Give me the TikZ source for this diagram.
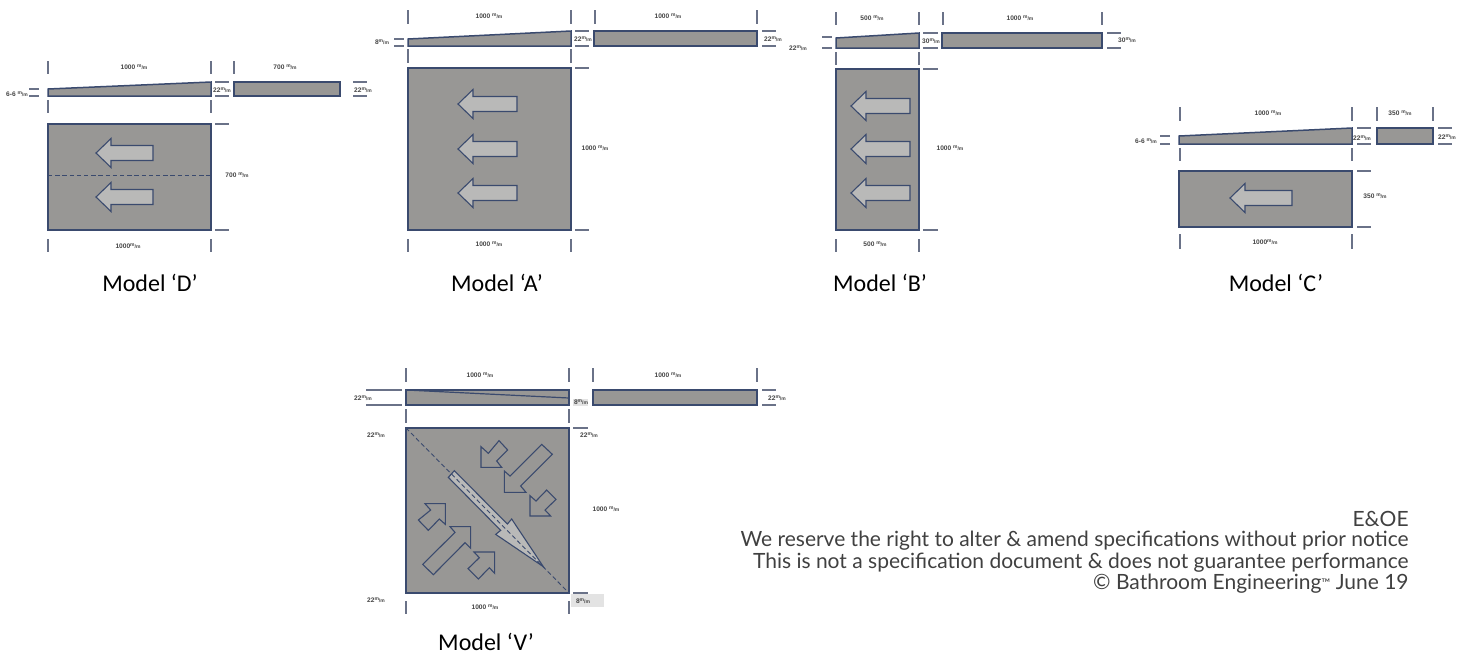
\documentclass[tikz,border=0pt]{standalone}
\usepackage{fontspec}
\setmainfont{Liberation Sans}
\newfontfamily\modelfont{Carlito}
\newfontfamily\notefont{Lato}
\definecolor{panel}{HTML}{989795}
\definecolor{edge}{HTML}{3A4A6E}
\definecolor{tick}{HTML}{6A7288}
\definecolor{lite}{HTML}{B9B9B8}
\definecolor{lab}{HTML}{444444}
\definecolor{notegray}{HTML}{404040}
\newcommand\mmu{{\fontsize{2.5}{2.5}\selectfont\raisebox{.7pt}{m}/m}}
\newcommand\tickV[3]{\draw[ticks] (#1,#2) -- (#1,#3);}
\newcommand\tickH[3]{\draw[ticks] (#1,#3) -- (#2,#3);}
\newcommand\dimL[4]{\node[dimlabel] (#1) at (#2,#3) {#4\mmu};}
\newcommand\leftarr[3]{\draw[arrowshape] (#1,#3) -- (#1+15,#3-14.5) -- (#1+15,#3-7.5) -- (#2,#3-7.5) -- (#2,#3+7.5) -- (#1+15,#3+7.5) -- (#1+15,#3+14.5) -- cycle;}
\tikzset{
  panelshape/.style={draw=edge,fill=panel,line width=.75pt,line join=miter},
  ticks/.style={draw=tick,line width=.65pt},
  arrowshape/.style={draw=edge,fill=lite,line width=.55pt},
  openarrow/.style={draw=edge,line width=.55pt},
  dashline/.style={draw=edge,line width=.45pt,dash pattern=on 2.2pt off 1.4pt},
  dimlabel/.style={font=\bfseries\fontsize{3.3}{3.3}\selectfont,text=lab,inner sep=0pt},
  modellabel/.style={font=\modelfont\fontsize{12}{12}\selectfont,text=black,inner sep=0pt},
  notelabel/.style={font=\notefont\fontsize{10.5}{11}\selectfont,text=notegray,inner sep=0pt,anchor=east}
}
\begin{document}
\begin{tikzpicture}[x=.5pt,y=-.5pt]
\useasboundingbox (0,0) rectangle (1464,654);
% ---------- Model D
\draw[panelshape] (48,89) -- (211,82) -- (211,96) -- (48,96) -- cycle;
\draw[panelshape] (234,82) rectangle (340,96);
\draw[panelshape] (48,124) rectangle (211,230);
\draw[dashline] (48,175) -- (211,175);
\leftarr{96}{153}{153}
\leftarr{96}{153}{197}
\foreach \x in {48,211,234} {\tickV{\x}{61}{74}}
\foreach \x in {48,211} {\tickV{\x}{100}{113}\tickV{\x}{239}{252}}
\tickH{29}{39}{89}\tickH{29}{39}{96}
\tickH{215}{229}{82}\tickH{215}{229}{96}
\tickH{353}{367}{82}\tickH{353}{367}{96}
\tickH{215}{229}{124}\tickH{215}{229}{230}
\dimL{d1}{134}{67}{1000 }
\dimL{d2}{285}{67}{700 }
\dimL{d3}{17}{94}{6-6 }
\dimL{d4}{222}{90}{22}
\dimL{d5}{363}{90}{22}
\dimL{d6}{237}{175}{700 }
\dimL{d7}{128}{246}{1000}
\node[modellabel] (md) at (150,283) {Model ‘D’};
% ---------- Model A
\draw[panelshape] (408,39) -- (571,31) -- (571,46) -- (408,46) -- cycle;
\draw[panelshape] (594,31) rectangle (757,46);
\draw[panelshape] (408,68) rectangle (571,230);
\leftarr{458}{517}{104}
\leftarr{458}{517}{149}
\leftarr{458}{517}{193}
\foreach \x in {408,571,595,757} {\tickV{\x}{10}{24}}
\foreach \x in {408,571} {\tickV{\x}{49}{63}\tickV{\x}{239}{252}}
\tickH{394}{404}{39}\tickH{394}{404}{46}
\tickH{575}{589}{31}\tickH{575}{589}{46}
\tickH{762}{776}{31}\tickH{762}{776}{46}
\tickH{575}{589}{68}\tickH{575}{589}{230}
\dimL{a1}{489}{16}{1000 }
\dimL{a2}{668}{16}{1000 }
\dimL{a3}{382}{42}{8}
\dimL{a4}{583}{39}{22}
\dimL{a5}{773}{39}{22}
\dimL{a6}{595}{148}{1000 }
\dimL{a7}{489}{244}{1000 }
\node[modellabel] (ma) at (497,283) {Model ‘A’};
% ---------- Model B
\draw[panelshape] (836,38) -- (919,33) -- (919,48) -- (836,48) -- cycle;
\draw[panelshape] (942,33) rectangle (1102,48);
\draw[panelshape] (836,69) rectangle (919,230);
\leftarr{851}{910}{106}
\leftarr{851}{910}{149}
\leftarr{851}{910}{193}
\foreach \x in {836,919,943,1102} {\tickV{\x}{12}{25}}
\foreach \x in {836,919} {\tickV{\x}{52}{65}\tickV{\x}{239}{252}}
\tickH{822}{832}{37}\tickH{822}{832}{48}
\tickH{923}{938}{33}\tickH{923}{938}{48}
\tickH{1107}{1121}{33}\tickH{1107}{1121}{48}
\tickH{923}{938}{69}\tickH{923}{938}{230}
\dimL{b1}{872}{18}{500 }
\dimL{b2}{1020}{18}{1000 }
\dimL{b3}{798}{48}{22}
\dimL{b4}{931}{41}{30}
\dimL{b5}{1127}{40}{30}
\dimL{b6}{950}{148}{1000 }
\dimL{b7}{875}{244}{500 }
\node[modellabel] (mb) at (880,283) {Model ‘B’};
% ---------- Model C
\draw[panelshape] (1179,136) -- (1352,128) -- (1352,144) -- (1179,144) -- cycle;
\draw[panelshape] (1377,128) rectangle (1433,144);
\draw[panelshape] (1179,171) rectangle (1352,227);
\leftarr{1230}{1292}{198}
\foreach \x in {1180,1352,1377,1433} {\tickV{\x}{107}{121}}
\foreach \x in {1180,1352} {\tickV{\x}{148}{161}\tickV{\x}{234}{249}}
\tickH{1160}{1170}{136}\tickH{1160}{1170}{144}
\tickH{1357}{1371}{128}\tickH{1357}{1371}{144}
\tickH{1438}{1452}{128}\tickH{1438}{1452}{144}
\tickH{1357}{1371}{171}\tickH{1357}{1371}{227}
\dimL{c1}{1268}{113}{1000 }
\dimL{c2}{1400}{113}{350 }
\dimL{c3}{1146}{141}{6-6 }
\dimL{c4}{1362}{138}{22}
\dimL{c5}{1447}{137}{22}
\dimL{c6}{1375}{196}{350 }
\dimL{c7}{1265}{242}{1000}
\node[modellabel] (mc) at (1276,283) {Model ‘C’};
% ---------- Model V
\draw[panelshape] (406,390) rectangle (569,405);
\draw[edge,line width=.6pt] (406,390) -- (569,398);
\draw[panelshape] (593,390) rectangle (757,405);
\draw[panelshape] (406,428) rectangle (569,593);
\foreach \x in {406,569,593,757} {\tickV{\x}{368}{382}}
\foreach \x in {406,569} {\tickV{\x}{409}{423}\tickV{\x}{601}{614}}
\tickH{366}{402}{390}\tickH{366}{402}{405}
\tickH{762}{776}{390}\tickH{762}{776}{405}
\tickH{573}{588}{428}
\fill[gray!22] (571,594) rectangle (604,607);
\tickH{573}{588}{593}
\fill[gray!22] (573,399) rectangle (588,406);
\begin{scope}[shift={(400,425)},x=.1667pt,y=-.1667pt]
  \draw[arrowshape] (163,137) -- (322,297) -- (335,282) -- (430,425) -- (287,328) -- (302,316) -- (145,157) -- cycle;
  \draw[openarrow] (243,65) -- (265,85) -- (297,47) -- (323,75) -- (290,108) -- (305,127) -- (243,127) -- cycle;
  \draw[openarrow] (313,138) -- (330,153) -- (425,58) -- (457,88) -- (362,183) -- (378,202) -- (313,202) -- cycle;
  \draw[openarrow] (390,212) -- (408,228) -- (440,195) -- (468,223) -- (435,255) -- (452,273) -- (390,273) -- cycle;
  \draw[openarrow] (75,236) -- (92,255) -- (55,285) -- (85,316) -- (118,282) -- (136,298) -- (136,236) -- cycle;
  \draw[openarrow] (150,305) -- (165,322) -- (68,418) -- (100,449) -- (195,353) -- (212,370) -- (212,305) -- cycle;
  \draw[openarrow] (222,381) -- (238,398) -- (204,431) -- (235,462) -- (268,428) -- (284,445) -- (284,381) -- cycle;
\end{scope}
\draw[dashline] (406,428) -- (569,593);
\dimL{v1}{480}{375}{1000 }
\dimL{v2}{668}{375}{1000 }
\dimL{v3}{363}{398}{22}
\dimL{v4}{777}{398}{22}
\dimL{v5}{581}{402}{8}
\dimL{v6}{376}{435}{22}
\dimL{v7}{589}{435}{22}
\dimL{v8}{606}{509}{1000 }
\dimL{v9}{376}{600}{22}
\dimL{v10}{485}{607}{1000 }
\dimL{v11}{583}{601}{8}
\node[modellabel] (mv) at (486,642) {Model ‘V’};
% ---------- Note
\node[notelabel] (n1) at (1409,519) {E\&OE};
\node[notelabel] (n2) at (1409,541) {We reserve the right to alter \& amend specifications without prior notice};
\node[notelabel] (n3) at (1409,563) {This is not a specification document \& does not guarantee performance};
\node[notelabel] (n4) at (1409,584) {© Bathroom Engineering{\fontsize{6}{6}\selectfont\raisebox{1.2pt}{™}} June 19};
\end{tikzpicture}
\end{document}
